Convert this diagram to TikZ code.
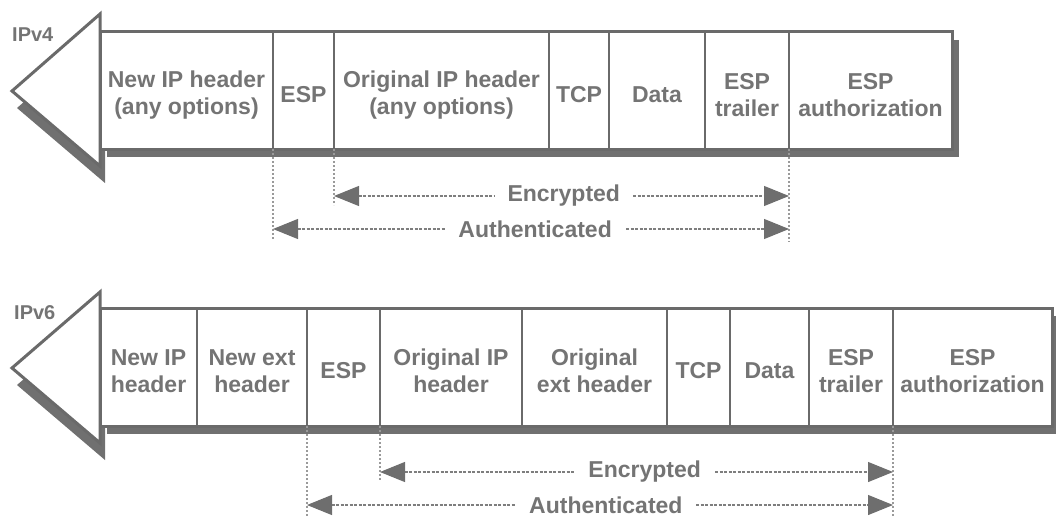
\documentclass[tikz,border=0pt]{standalone}
\usepackage{fontspec}
\setmainfont{Liberation Sans}
\usetikzlibrary{arrows.meta}

\definecolor{framegray}{HTML}{6A6A6A}
\definecolor{shadegray}{HTML}{707070}
\definecolor{inkgray}{HTML}{747474}
\definecolor{dotgray}{HTML}{9A9A9A}
\definecolor{dashgray}{HTML}{7E7E7E}
\definecolor{tipgray}{HTML}{6E6E6E}

\tikzset{
  frame/.style={draw=framegray, line width=3pt, line join=miter, fill=white},
  shade/.style={fill=shadegray, draw=none},
  divider/.style={draw=framegray, line width=2pt},
  field/.style={text=inkgray, font=\bfseries\fontsize{23}{27}\selectfont, align=center, inner sep=0pt},
  tag/.style={text=inkgray, font=\bfseries\fontsize{20}{24}\selectfont, inner sep=0pt, anchor=west},
  guide/.style={draw=dotgray, line width=1.4pt, dash pattern=on 2pt off 2pt},
  span/.style={draw=dashgray, line width=1.1pt, dash pattern=on 3pt off 1.5pt,
    {Triangle[length=25pt,width=20pt,color=tipgray]}-{Triangle[length=25pt,width=20pt,color=tipgray]}},
  spanlabel/.style={text=inkgray, font=\bfseries\fontsize{23}{27}\selectfont, fill=white, inner xsep=13pt, inner ysep=1pt},
}

\begin{document}
\begin{tikzpicture}[x=1pt,y=-1pt]
\useasboundingbox (0,0) rectangle (1056,516);

% ---------------- IPv4 packet ----------------
% drop shadows
\fill[shade] (107,40) rectangle (959,157);
\fill[shade] (105,31) -- (17,108) -- (105,183) -- cycle;
% body and arrow head
\draw[frame] (100,32) rectangle (952,149);
\draw[frame] (100,14) -- (12,91) -- (100,166) -- cycle;
% field boundaries
\coordinate (a1) at (273,149);
\coordinate (a2) at (334,149);
\coordinate (a6) at (789,149);
\foreach \x in {273,334,549,609,705,789}
  \draw[divider] (\x,32) -- (\x,149);

\node[tag] (tag4) at (12,35) {IPv4};
\node[field] (f41) at (186.5,95) {New IP header\\(any options)};
\node[field] (f42) at (303.5,95) {ESP};
\node[field] (f43) at (441.5,95) {Original IP header\\(any options)};
\node[field] (f44) at (579,95) {TCP};
\node[field] (f45) at (657,95) {Data};
\node[field] (f46) at (747,95) {ESP\\trailer};
\node[field] (f47) at (870.5,95) {ESP\\authorization};

% coverage marks
\coordinate (a1end) at (273,240);
\coordinate (a2end) at (334,205);
\coordinate (a6end) at (789,242);
\draw[guide] (a1) -- (a1end);
\draw[guide] (a2) -- (a2end);
\draw[guide] (a6) -- (a6end);

\coordinate (enc4l) at (334,196);
\coordinate (enc4r) at (789,196);
\coordinate (aut4l) at (273,229);
\coordinate (aut4r) at (789,229);
\draw[span] (enc4l) -- node[spanlabel, pos=0.505] (enc4) {Encrypted} (enc4r);
\draw[span] (aut4l) -- node[spanlabel, pos=0.508] (aut4) {Authenticated} (aut4r);

% ---------------- IPv6 packet ----------------
\fill[shade] (107,316) rectangle (1060,434);
\fill[shade] (105,309) -- (17,385) -- (105,460) -- cycle;
\draw[frame] (100,308) rectangle (1052,426);
\draw[frame] (100,292) -- (12,368) -- (100,443) -- cycle;
\coordinate (b3) at (307,426);
\coordinate (b4) at (380,426);
\coordinate (b8) at (893,426);
\foreach \x in {197,307,380,522,667,730,809,893}
  \draw[divider] (\x,308) -- (\x,426);

\node[tag] (tag6) at (14,313) {IPv6};
\node[field] (f61) at (148.5,371) {New IP\\header};
\node[field] (f62) at (252,371) {New ext\\header};
\node[field] (f63) at (343.5,371) {ESP};
\node[field] (f64) at (451,371) {Original IP\\header};
\node[field] (f65) at (594.5,371) {Original\\ext header};
\node[field] (f66) at (698.5,371) {TCP};
\node[field] (f67) at (769.5,371) {Data};
\node[field] (f68) at (851,371) {ESP\\trailer};
\node[field] (f69) at (972.5,371) {ESP\\authorization};

\coordinate (b3end) at (307,516);
\coordinate (b4end) at (380,481);
\coordinate (b8end) at (893,516);
\draw[guide] (b3) -- (b3end);
\draw[guide] (b4) -- (b4end);
\draw[guide] (b8) -- (b8end);

\coordinate (enc6l) at (380,472);
\coordinate (enc6r) at (893,472);
\coordinate (aut6l) at (307,505);
\coordinate (aut6r) at (893,505);
\draw[span] (enc6l) -- node[spanlabel, pos=0.516] (enc6) {Encrypted} (enc6r);
\draw[span] (aut6l) -- node[spanlabel, pos=0.51] (aut6) {Authenticated} (aut6r);
\end{tikzpicture}
\end{document}
